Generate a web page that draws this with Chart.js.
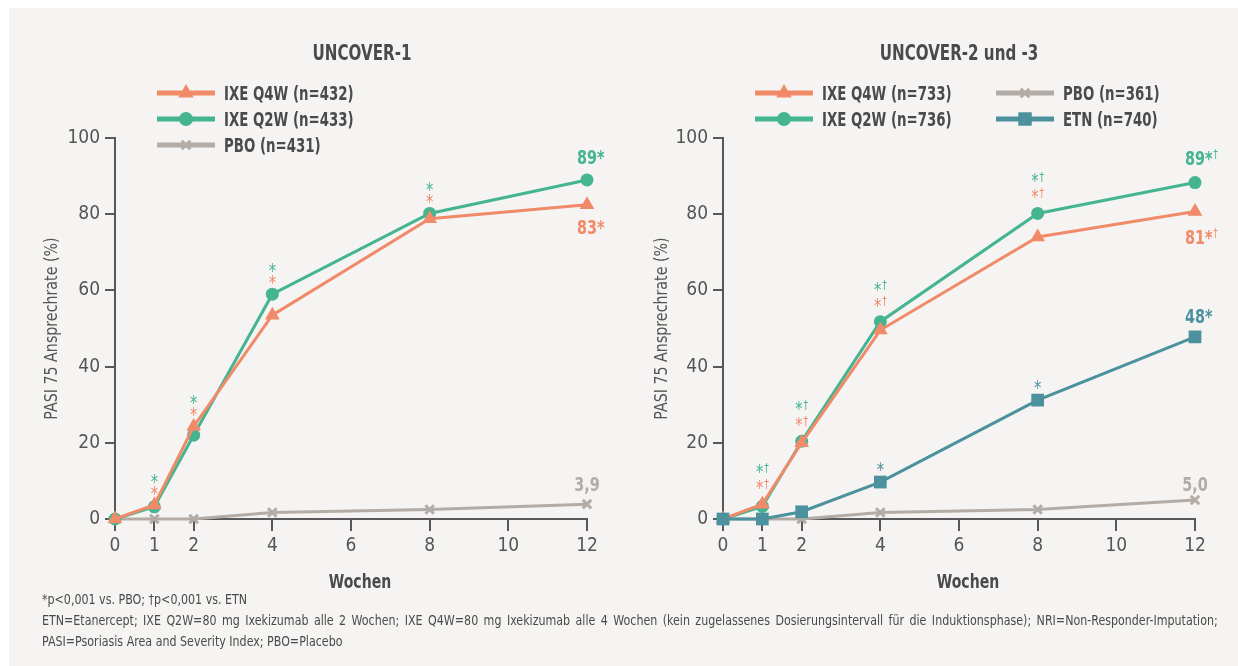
<!DOCTYPE html>
<html>
<head>
<meta charset="utf-8">
<script src="https://cdn.jsdelivr.net/npm/chart.js@4.4.1/dist/chart.umd.min.js"></script>
<style>
  body { margin: 0; width: 1238px; height: 666px; overflow: hidden; position: relative; background: #fff;
         font-family: 'Liberation Sans Narrow', 'DejaVu Sans Condensed', sans-serif; }
  #panel { position: absolute; left: 9px; top: 8px; right: 0; bottom: 0; background: #f5f4f2; }
  .box { position: absolute; top: 0; width: 619px; height: 610px; }
  #notes { position: absolute; left: 42px; top: 589px; width: 1336px; color: #4a4a4a; font-size: 14px; line-height: 21px;
           transform: scaleX(0.88); transform-origin: 0 0; }
  .just { text-align: justify; text-align-last: justify; white-space: nowrap; }
</style>
</head>
<body>
<div id="panel"></div>
<div class="box" style="left:0"><canvas id="left"></canvas></div>
<div class="box" style="left:619px"><canvas id="right"></canvas></div>
<div id="notes">
  <div>*p&lt;0,001 vs. PBO; †p&lt;0,001 vs. ETN</div>
  <div class="just">ETN=Etanercept; IXE Q2W=80 mg Ixekizumab alle 2 Wochen; IXE Q4W=80 mg Ixekizumab alle 4 Wochen (kein zugelassenes Dosierungsintervall für die Induktionsphase); NRI=Non-Responder-Imputation;</div>
  <div>PASI=Psoriasis Area and Severity Index; PBO=Placebo</div>
</div>
<script>
// data
const weeks = [0, 1, 2, 4, 8, 12];
const xTickValues = [0, 1, 2, 4, 6, 8, 10, 12];
const yTickValues = [0, 20, 40, 60, 80, 100];

// UNCOVER-1
const u1Names = ['IXE Q4W (n=432)', 'IXE Q2W (n=433)', 'PBO (n=431)'];
const u1Q4W = [0, 3.7, 24.3, 53.5, 78.8, 82.5];
const u1Q2W = [0, 3.2, 22.0, 59.0, 80.2, 89.0];
const u1PBO = [0, 0, 0, 1.7, 2.5, 3.9];
const u1Q4WMarks = ['', '*', '*', '*', '*', '83*'];
const u1Q2WMarks = ['', '*', '*', '*', '*', '89*'];
const u1PBOMarks = ['', '', '', '', '', '3,9'];

// UNCOVER-2 und -3
const u23Names = ['IXE Q4W (n=733)', 'IXE Q2W (n=736)', 'PBO (n=361)', 'ETN (n=740)'];
const u23Q4W = [0, 3.9, 20.0, 49.6, 74.0, 80.7];
const u23Q2W = [0, 3.3, 20.4, 51.8, 80.2, 88.3];
const u23PBO = [0, 0, 0, 1.7, 2.5, 5.0];
const u23ETN = [0, 0, 1.9, 9.7, 31.2, 47.8];
const u23Q4WMarks = ['', '*†', '*†', '*†', '*†', '81*†'];
const u23Q2WMarks = ['', '*†', '*†', '*†', '*†', '89*†'];
const u23PBOMarks = ['', '', '', '', '', '5,0'];
const u23ETNMarks = ['', '', '', '*', '*', '48*'];

const FAMILY = "'Liberation Sans Narrow', 'DejaVu Sans Condensed', sans-serif";
const TEXT = '#4a4a4c';
const AXIS = '#58585a';
const ORANGE = '#f08a68';
const GREEN = '#44b491';
const GREY = '#b3aba5';
const TEAL = '#4b919e';

const STYLE = {
  triangle: { radius: 8.5, border: 0 },
  circle: { radius: 6.5, border: 0 },
  rect: { radius: 9, border: 0 },
  crossRot: { radius: 6, border: 3 }
};

function series(label, values, color, style, marks) {
  return {
    label: label,
    data: values.map((v, i) => ({ x: weeks[i], y: v })),
    borderColor: color,
    backgroundColor: color,
    pointBackgroundColor: color,
    pointBorderColor: color,
    pointStyle: style,
    pointRadius: STYLE[style].radius,
    pointHoverRadius: STYLE[style].radius,
    pointBorderWidth: STYLE[style].border,
    borderWidth: 3,
    tension: 0,
    clip: false,
    marks: marks
  };
}

// text squeezed horizontally to look like the condensed original face
function squeezed(ctx, str, x, y, sx, align, angle) {
  ctx.save();
  ctx.translate(x, y);
  if (angle) ctx.rotate(angle);
  ctx.scale(sx, 1);
  ctx.textAlign = align;
  ctx.fillText(str, 0, 0);
  ctx.restore();
}

// mark text: "89*†" -> number centred on the point, stars and dagger after it
function drawMark(ctx, text, x, cy, color, size, bold, sx) {
  const weight = bold ? 'bold ' : '';
  const dagger = text.endsWith('†');
  const main = dagger ? text.slice(0, -1) : text;
  const num = main.replace(/\*+$/, '');
  const star = main.slice(num.length);
  ctx.fillStyle = color;
  ctx.textBaseline = 'alphabetic';
  ctx.font = weight + size + 'px ' + FAMILY;
  const wNum = ctx.measureText(num).width * sx;
  const wStar = ctx.measureText(star).width * sx;
  const dSize = Math.round(size * 0.62);
  ctx.font = dSize + 'px ' + FAMILY;
  const wDag = dagger ? ctx.measureText('†').width * sx + 1 : 0;
  const x0 = num ? x - wNum / 2 : x - (wStar + wDag) / 2;
  const base = num ? cy + size * 0.36 : cy + size * 0.58;
  ctx.font = weight + size + 'px ' + FAMILY;
  squeezed(ctx, num + star, x0, base, sx, 'left');
  if (dagger) {
    ctx.font = dSize + 'px ' + FAMILY;
    squeezed(ctx, '†', x0 + wNum + wStar + 1, base - size * 0.33, sx, 'left');
  }
}

const overlay = {
  id: 'overlay',
  afterDatasetsDraw(chart, args, opts) {
    const ctx = chart.ctx;
    const area = chart.chartArea;
    const midX = (area.left + area.right) / 2;
    ctx.save();
    ctx.textBaseline = 'alphabetic';
    // title
    ctx.fillStyle = TEXT;
    ctx.font = 'bold 21px ' + FAMILY;
    squeezed(ctx, opts.title, midX + opts.titleShift, opts.titleY + 7.5, 0.8, 'center');
    // axis titles
    ctx.font = 'bold 20px ' + FAMILY;
    squeezed(ctx, 'Wochen', midX + 9, 581 + 7, 0.78, 'center');
    ctx.fillStyle = '#555';
    ctx.font = '18px ' + FAMILY;
    ctx.textBaseline = 'middle';
    squeezed(ctx, 'PASI 75 Ansprechrate (%)', opts.yTitleX, (area.top + area.bottom) / 2, 0.88, 'center', -Math.PI / 2);
    ctx.textBaseline = 'alphabetic';
    // legend
    opts.legend.forEach(it => {
      const ds = chart.data.datasets[it.set];
      ctx.strokeStyle = ds.borderColor;
      ctx.lineWidth = 5;
      ctx.lineCap = 'butt';
      ctx.beginPath();
      ctx.moveTo(it.x, it.y);
      ctx.lineTo(it.x + 58, it.y);
      ctx.stroke();
      ctx.fillStyle = ds.borderColor;
      ctx.lineWidth = STYLE[ds.pointStyle].border;
      Chart.helpers.drawPoint(ctx, {
        pointStyle: ds.pointStyle, rotation: 0,
        radius: STYLE[ds.pointStyle].radius + (ds.pointStyle === 'crossRot' ? 0 : 0.5),
        borderWidth: STYLE[ds.pointStyle].border
      }, it.x + 29, it.y);
      ctx.fillStyle = TEXT;
      ctx.font = 'bold 19px ' + FAMILY;
      squeezed(ctx, ds.label, it.x + 67, it.y + 7, 0.78, 'left');
    });
    // significance marks and end values
    opts.marks.forEach(m => {
      const ds = chart.data.datasets[m.set];
      const pts = chart.getDatasetMeta(m.set).data;
      ds.marks.forEach((t, i) => {
        if (!t) return;
        if (i === ds.marks.length - 1) {
          drawMark(ctx, t, pts[i].x, pts[i].y + m.endDy, ds.borderColor, 20, true, 0.8);
        } else {
          const top = Math.min(...m.anchors.map(a => chart.getDatasetMeta(a).data[i].y));
          drawMark(ctx, t, pts[i].x, top + m.dy, ds.borderColor, 19, false, 0.85);
        }
      });
    });
    ctx.restore();
  }
};

function makeChart(id, datasets, yAxisWidth, rightPad, overlayOpts) {
  return new Chart(document.getElementById(id), {
    type: 'line',
    data: { datasets: datasets },
    options: {
      responsive: true,
      maintainAspectRatio: false,
      animation: false,
      events: [],
      layout: { padding: { left: 0, top: 138, right: rightPad, bottom: 0 } },
      plugins: {
        legend: { display: false },
        tooltip: { enabled: false },
        overlay: overlayOpts
      },
      scales: {
        x: {
          type: 'linear', min: 0, max: 12,
          afterBuildTicks: s => { s.ticks = xTickValues.map(v => ({ value: v })); },
          afterFit: s => { s.height = 91; },
          grid: { drawOnChartArea: false, drawTicks: true, tickLength: 12, color: AXIS, lineWidth: 2 },
          border: { display: true, color: AXIS, width: 2 },
          ticks: { color: '#555', padding: 4, font: { family: FAMILY, size: 19 }, maxRotation: 0, autoSkip: false }
        },
        y: {
          min: 0, max: 100,
          afterBuildTicks: s => { s.ticks = yTickValues.map(v => ({ value: v })); },
          afterFit: s => { s.width = yAxisWidth; },
          grid: { drawOnChartArea: false, drawTicks: true, tickLength: 10, color: AXIS, lineWidth: 2 },
          border: { display: true, color: AXIS, width: 2 },
          ticks: { color: '#555', padding: 5, font: { family: FAMILY, size: 19 } }
        }
      }
    },
    plugins: [overlay]
  });
}

makeChart('left', [
  series(u1Names[0], u1Q4W, ORANGE, 'triangle', u1Q4WMarks),
  series(u1Names[1], u1Q2W, GREEN, 'circle', u1Q2WMarks),
  series(u1Names[2], u1PBO, GREY, 'crossRot', u1PBOMarks)
], 115, 32, {
  title: 'UNCOVER-1', titleShift: 11, titleY: 52, yTitleX: 52,
  legend: [
    { set: 0, x: 157, y: 93 },
    { set: 1, x: 157, y: 119 },
    { set: 2, x: 157, y: 145 }
  ],
  marks: [
    { set: 0, anchors: [0, 1], dy: -16, endDy: 22 },
    { set: 1, anchors: [0, 1], dy: -28, endDy: -23 },
    { set: 2, anchors: [2], dy: 0, endDy: -20 }
  ]
});

makeChart('right', [
  series(u23Names[3], u23ETN, TEAL, 'rect', u23ETNMarks),
  series(u23Names[0], u23Q4W, ORANGE, 'triangle', u23Q4WMarks),
  series(u23Names[1], u23Q2W, GREEN, 'circle', u23Q2WMarks),
  series(u23Names[2], u23PBO, GREY, 'crossRot', u23PBOMarks)
], 104, 43, {
  title: 'UNCOVER-2 und -3', titleShift: 0, titleY: 52, yTitleX: 43,
  legend: [
    { set: 1, x: 136, y: 93 },
    { set: 2, x: 136, y: 119 },
    { set: 3, x: 377, y: 93 },
    { set: 0, x: 377, y: 119 }
  ],
  marks: [
    { set: 0, anchors: [0], dy: -17, endDy: -21 },
    { set: 1, anchors: [1, 2], dy: -21, endDy: 25 },
    { set: 2, anchors: [1, 2], dy: -37, endDy: -25 },
    { set: 3, anchors: [3], dy: 0, endDy: -16 }
  ]
});
</script>
</body>
</html>
